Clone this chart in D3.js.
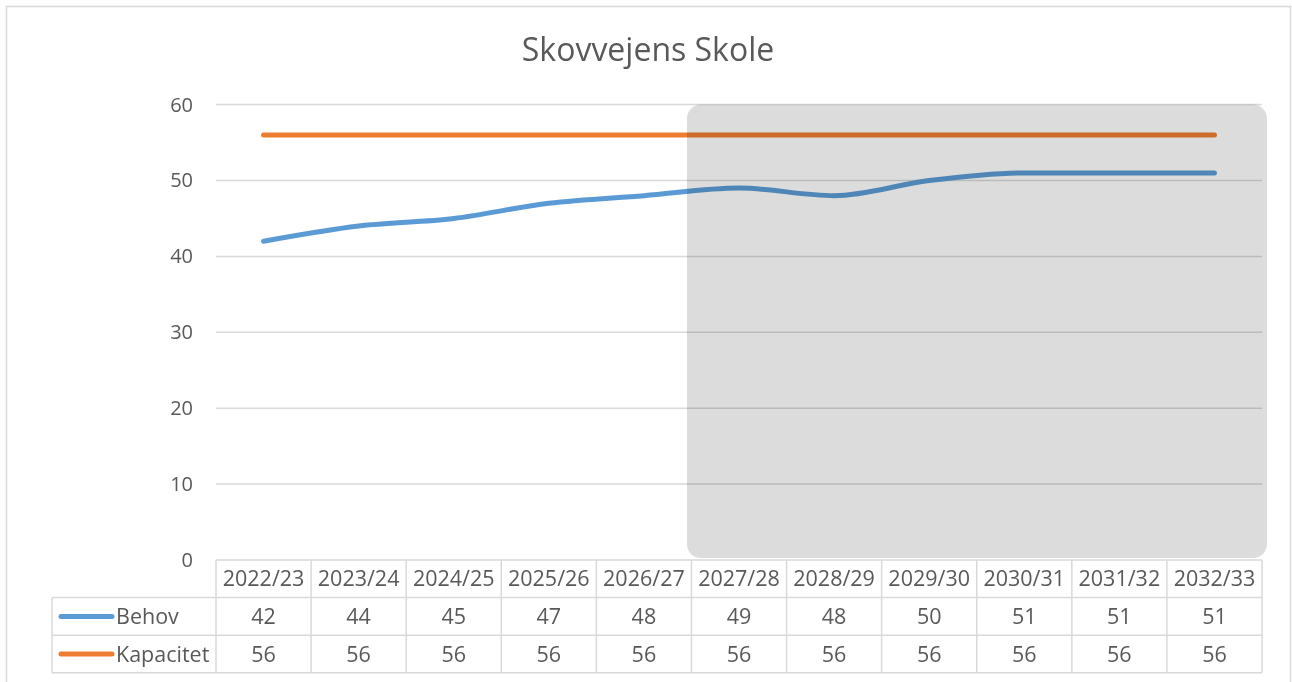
<!DOCTYPE html>
<html>
<head>
<meta charset="utf-8">
<script src="https://cdn.jsdelivr.net/npm/d3@7"></script>
<style>
  body { margin: 0; background: #fff; }
  text { font-family: "Open Sans", sans-serif; fill: #595959; }
</style>
</head>
<body>
<div id="chart"></div>
<script>
// data
var years = ['2022/23', '2023/24', '2024/25', '2025/26', '2026/27', '2027/28',
    '2028/29', '2029/30', '2030/31', '2031/32', '2032/33'];
var behov = [42, 44, 45, 47, 48, 49, 48, 50, 51, 51, 51];
var kapacitet = [56, 56, 56, 56, 56, 56, 56, 56, 56, 56, 56];
var yTicks = [0, 10, 20, 30, 40, 50, 60];
var shadeFrom = '2027/28';

var series = [
    { name: 'Behov', values: behov, color: '#5B9BD5' },
    { name: 'Kapacitet', values: kapacitet, color: '#ED7D31' }
];

var svgWidth = 1292;
var svgHeight = 682;

// plot area
var plot = { left: 216, right: 1262, top: 104.6, bottom: 560 };
var rowH = 37.6;
var tableLeft = 52;
var tableFont = '21.5px';

var svg = d3.select('#chart')
    .append('svg')
    .attr('width', svgWidth)
    .attr('height', svgHeight);

// outer border
svg.append('rect')
    .attr('x', 6.5)
    .attr('y', 6.5)
    .attr('width', 1284)
    .attr('height', 690)
    .attr('fill', 'none')
    .attr('stroke', '#d9d9d9')
    .attr('stroke-width', 1.5);

// scales
var xScale = d3.scaleBand()
    .domain(years)
    .range([plot.left, plot.right]);

var yScale = d3.scaleLinear()
    .domain([0, 60])
    .range([plot.bottom, plot.top]);

// title
svg.append('text')
    .attr('x', 648)
    .attr('y', 61)
    .attr('text-anchor', 'middle')
    .attr('font-size', '32px')
    .text('Skovvejens Skole');

// y axis labels
var leftAxis = d3.axisLeft(yScale)
    .tickValues(yTicks)
    .tickSize(0)
    .tickPadding(23);

var yAxis = svg.append('g')
    .attr('transform', `translate(${plot.left}, 0)`)
    .call(leftAxis);
yAxis.select('.domain').remove();
yAxis.selectAll('text')
    .attr('font-size', '20px')
    .attr('fill', '#595959')
    .style('font-family', '"Open Sans", sans-serif');

// gridlines
svg.append('g')
    .selectAll('line')
    .data(yTicks.filter(d => d > 0))
    .enter()
    .append('line')
    .attr('x1', plot.left)
    .attr('x2', plot.right)
    .attr('y1', d => yScale(d))
    .attr('y2', d => yScale(d))
    .attr('stroke', '#d9d9d9')
    .attr('stroke-width', 1.5);

// lines
var line = d3.line()
    .x((d, i) => xScale(years[i]) + xScale.bandwidth() / 2)
    .y(d => yScale(d))
    .curve(d3.curveMonotoneX);

svg.append('g')
    .selectAll('path')
    .data(series)
    .enter()
    .append('path')
    .attr('d', d => line(d.values))
    .attr('fill', 'none')
    .attr('stroke', d => d.color)
    .attr('stroke-width', 5)
    .attr('stroke-linecap', 'round')
    .attr('stroke-linejoin', 'round');

// shaded forecast area
var shadeX = xScale(shadeFrom) - 4.5;
svg.append('rect')
    .attr('x', shadeX)
    .attr('y', plot.top)
    .attr('width', plot.right + 5 - shadeX)
    .attr('height', plot.bottom - 2 - plot.top)
    .attr('rx', 14)
    .attr('ry', 14)
    .attr('fill', '#dcdcdc')
    .style('mix-blend-mode', 'multiply');

// data table
var table = svg.append('g');
var gridColor = '#d9d9d9';

// horizontal lines
table.append('line')
    .attr('x1', plot.left).attr('x2', plot.right)
    .attr('y1', plot.bottom).attr('y2', plot.bottom);
[1, 2, 3].forEach(function(r) {
    table.append('line')
        .attr('x1', tableLeft).attr('x2', plot.right)
        .attr('y1', plot.bottom + r * rowH).attr('y2', plot.bottom + r * rowH);
});

// vertical lines
table.append('line')
    .attr('x1', tableLeft).attr('x2', tableLeft)
    .attr('y1', plot.bottom + rowH).attr('y2', plot.bottom + 3 * rowH);
years.concat(['end']).forEach(function(y, i) {
    var x = i < years.length ? xScale(y) : plot.right;
    table.append('line')
        .attr('x1', x).attr('x2', x)
        .attr('y1', plot.bottom).attr('y2', plot.bottom + 3 * rowH);
});
table.selectAll('line')
    .attr('stroke', gridColor)
    .attr('stroke-width', 1.5);

// header row
table.selectAll('.yearText')
    .data(years)
    .enter()
    .append('text')
    .attr('x', d => xScale(d) + xScale.bandwidth() / 2)
    .attr('y', plot.bottom + rowH / 2)
    .attr('dy', '0.35em')
    .attr('text-anchor', 'middle')
    .attr('font-size', tableFont)
    .text(d => d);

// series rows
series.forEach(function(s, r) {
    var cy = plot.bottom + (r + 1.5) * rowH;

    table.append('line')
        .attr('x1', tableLeft + 9)
        .attr('x2', tableLeft + 60)
        .attr('y1', cy)
        .attr('y2', cy)
        .attr('stroke', s.color)
        .attr('stroke-width', 5)
        .attr('stroke-linecap', 'round');

    table.append('text')
        .attr('x', tableLeft + 64)
        .attr('y', cy)
        .attr('dy', '0.35em')
        .attr('font-size', tableFont)
        .text(s.name);

    table.selectAll('.val' + r)
        .data(s.values)
        .enter()
        .append('text')
        .attr('x', (d, i) => xScale(years[i]) + xScale.bandwidth() / 2)
        .attr('y', cy)
        .attr('dy', '0.35em')
        .attr('text-anchor', 'middle')
        .attr('font-size', tableFont)
        .text(d => d);
});
</script>
</body>
</html>
